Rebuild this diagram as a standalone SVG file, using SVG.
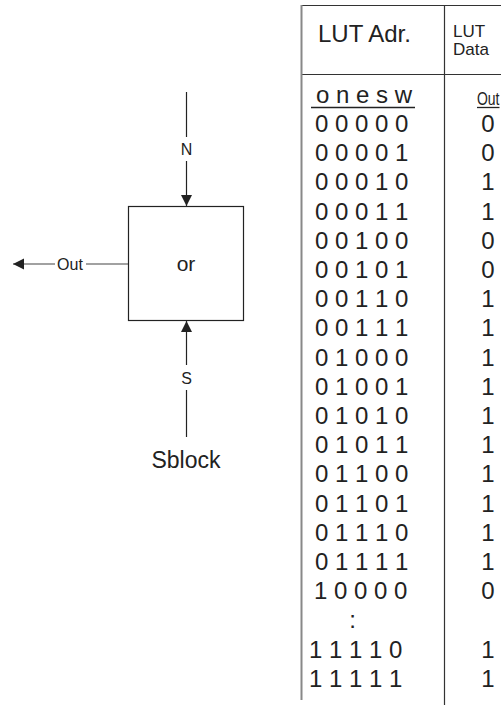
<svg xmlns="http://www.w3.org/2000/svg" width="501" height="705" viewBox="0 0 501 705">
<style>
  text { font-family: "Liberation Sans", Arial, sans-serif; fill: #222; }
  .lbl { font-size: 16px; text-anchor: middle; }
  .big { font-size: 24px; }
  .val { font-size: 24px; text-anchor: middle; }
  .hdr { font-size: 17px; }
  .wire { stroke: #222; stroke-width: 1.2; fill: none; }
  .grid { stroke: #333; stroke-width: 1.2; fill: none; }
</style>
<defs>
  <marker id="arr" markerUnits="userSpaceOnUse" markerWidth="12" markerHeight="12" refX="11" refY="5.5" orient="auto">
    <path d="M0,0 L11,5.5 L0,11 z" fill="#222"/>
  </marker>
</defs>

<g id="sblock">
  <rect x="128.5" y="206.5" width="115" height="114" fill="#fff" stroke="#222" stroke-width="1.2"/>
  <text x="186" y="271" style="font-size:21px;text-anchor:middle">or</text>
</g>

<g id="connectors">
  <path class="wire" d="M186.5,92 V137"/>
  <path class="wire" d="M186.5,161 V206" marker-end="url(#arr)"/>
  <path class="wire" d="M186.5,437 V390"/>
  <path class="wire" d="M186.5,365 V321" marker-end="url(#arr)"/>
  <path class="wire" style="stroke:#444" d="M128,264 H86"/>
  <path class="wire" style="stroke:#444" d="M55,264 H13" marker-end="url(#arr)"/>
  <text class="lbl" x="186.5" y="155">N</text>
  <text class="lbl" x="186.5" y="384">S</text>
  <text class="lbl" x="70" y="270">Out</text>
</g>

<g id="caption">
  <text x="186" y="468" style="font-size:23px;text-anchor:middle">Sblock</text>
</g>

<g id="lut-table">
  <line x1="301" y1="5.5" x2="501" y2="5.5" class="grid"/>
  <line x1="301" y1="74.5" x2="501" y2="74.5" class="grid"/>
  <line x1="301.5" y1="5" x2="301.5" y2="700" style="stroke:#888;stroke-width:2"/>
  <line x1="444.5" y1="5" x2="444.5" y2="705" class="grid"/>
  <text class="big" x="318" y="42">LUT Adr.</text>
  <text class="hdr" x="453" y="37">LUT</text>
  <text class="hdr" x="453" y="55">Data</text>
  <text class="big" x="316" y="103">o n e s w</text>
  <line x1="311" y1="107.5" x2="415" y2="107.5" style="stroke:#222;stroke-width:1.3"/>
  <text x="477" y="105" style="font-size:19px" textLength="22.5" lengthAdjust="spacingAndGlyphs">Out</text>
  <line x1="477" y1="107.5" x2="499.5" y2="107.5" style="stroke:#222;stroke-width:1.3"/>

  <text class="big" x="315" y="132">0 0 0 0 0</text><text class="val" x="488" y="132">0</text>
  <text class="big" x="315" y="161.2">0 0 0 0 1</text><text class="val" x="488" y="161.2">0</text>
  <text class="big" x="315" y="190.4">0 0 0 1 0</text><text class="val" x="488" y="190.4">1</text>
  <text class="big" x="315" y="219.6">0 0 0 1 1</text><text class="val" x="488" y="219.6">1</text>
  <text class="big" x="315" y="248.8">0 0 1 0 0</text><text class="val" x="488" y="248.8">0</text>
  <text class="big" x="315" y="278">0 0 1 0 1</text><text class="val" x="488" y="278">0</text>
  <text class="big" x="315" y="307.2">0 0 1 1 0</text><text class="val" x="488" y="307.2">1</text>
  <text class="big" x="315" y="336.4">0 0 1 1 1</text><text class="val" x="488" y="336.4">1</text>
  <text class="big" x="315" y="365.6">0 1 0 0 0</text><text class="val" x="488" y="365.6">1</text>
  <text class="big" x="315" y="394.8">0 1 0 0 1</text><text class="val" x="488" y="394.8">1</text>
  <text class="big" x="315" y="424">0 1 0 1 0</text><text class="val" x="488" y="424">1</text>
  <text class="big" x="315" y="453.2">0 1 0 1 1</text><text class="val" x="488" y="453.2">1</text>
  <text class="big" x="315" y="482.4">0 1 1 0 0</text><text class="val" x="488" y="482.4">1</text>
  <text class="big" x="315" y="511.6">0 1 1 0 1</text><text class="val" x="488" y="511.6">1</text>
  <text class="big" x="315" y="540.8">0 1 1 1 0</text><text class="val" x="488" y="540.8">1</text>
  <text class="big" x="315" y="570">0 1 1 1 1</text><text class="val" x="488" y="570">1</text>
  <text class="big" x="314" y="599.2">1 0 0 0 0</text><text class="val" x="488" y="599.2">0</text>
  <text class="val" x="352.5" y="628.4">:</text>
  <text class="big" x="309" y="657.6">1 1 1 1 0</text><text class="val" x="488" y="657.6">1</text>
  <text class="big" x="309" y="686.8">1 1 1 1 1</text><text class="val" x="488" y="686.8">1</text>
</g>
</svg>
